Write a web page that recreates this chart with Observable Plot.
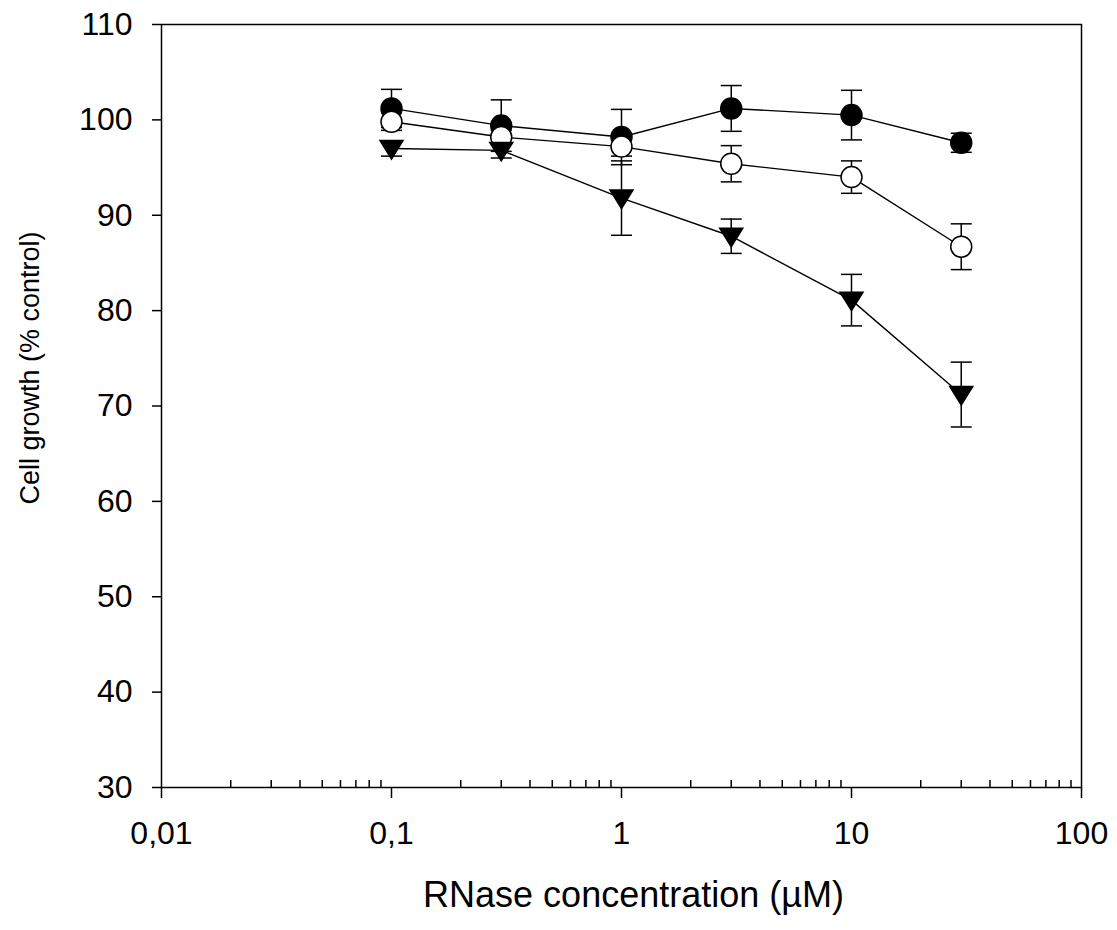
<!DOCTYPE html>
<html>
<head>
<meta charset="utf-8">
<script src="https://cdn.jsdelivr.net/npm/d3@7"></script>
<script src="https://cdn.jsdelivr.net/npm/@observablehq/plot@0.6"></script>
<style>
  body { margin: 0; background: #fff; }
</style>
</head>
<body>
<div id="chart"></div>
<script>
// ---- data ----
const concentrations = [0.1, 0.3, 1, 3, 10, 30];
const filledMean = [101.2, 99.4, 98.2, 101.2, 100.5, 97.6];
const filledErr  = [2.0, 2.7, 2.9, 2.4, 2.6, 1.0];
const openMean   = [99.8, 98.2, 97.2, 95.4, 94.0, 86.7];
const openErr    = [0.9, 0.7, 1.0, 1.9, 1.7, 2.4];
const triMean    = [97.0, 96.8, 91.8, 87.8, 81.1, 71.2];
const triErr     = [0.8, 0.8, 3.9, 1.8, 2.7, 3.4];

const xMajorTicks = [0.01, 0.1, 1, 10, 100];
const xTickLabels = ["0,01", "0,1", "1", "10", "100"];
const xMinorTicks = [0.02, 0.03, 0.04, 0.05, 0.06, 0.07, 0.08, 0.09,
                     0.2, 0.3, 0.4, 0.5, 0.6, 0.7, 0.8, 0.9,
                     2, 3, 4, 5, 6, 7, 8, 9,
                     20, 30, 40, 50, 60, 70, 80, 90];
const yTicks = [30, 40, 50, 60, 70, 80, 90, 100, 110];
const xTitle = "RNase concentration (\u00B5M)";
const yTitle = "Cell growth (% control)";

// ---- build tables ----
function rows(means, errs) {
  return concentrations.map((x, i) => ({x, y: means[i], lo: means[i] - errs[i], hi: means[i] + errs[i]}));
}
const filledRows = rows(filledMean, filledErr);
const openRows = rows(openMean, openErr);
const triRows = rows(triMean, triErr);

// ---- custom symbols ----
const capSymbol = {draw(ctx) { ctx.moveTo(-10.5, 0); ctx.lineTo(10.5, 0); }};
const triDown = {draw(ctx) { ctx.moveTo(-11.5, -8); ctx.lineTo(11.5, -8); ctx.lineTo(0, 10.5); ctx.closePath(); }};

function seriesMarks(data, symbol, fill) {
  return [
    Plot.ruleX(data, {x: "x", y1: "lo", y2: "hi", stroke: "black", strokeWidth: 1.5}),
    Plot.dot(data, {x: "x", y: "lo", symbol: capSymbol, fill: "none", stroke: "black", strokeWidth: 1.5}),
    Plot.dot(data, {x: "x", y: "hi", symbol: capSymbol, fill: "none", stroke: "black", strokeWidth: 1.5}),
    Plot.line(data, {x: "x", y: "y", stroke: "black", strokeWidth: 1.4}),
    Plot.dot(data, {x: "x", y: "y", symbol, r: 10.5, fill, stroke: "black", strokeWidth: 1.5})
  ];
}

const chart = Plot.plot({
  width: 1117,
  height: 930,
  marginLeft: 161,
  marginRight: 36,
  marginTop: 24,
  marginBottom: 143,
  style: {fontFamily: "'Liberation Sans', Arial, sans-serif", fontSize: "32px", color: "black", background: "white"},
  x: {type: "log", domain: [0.01, 100], axis: null},
  y: {domain: [30, 110], axis: null},
  marks: [
    Plot.frame({stroke: "black", strokeWidth: 1.5}),
    Plot.axisY(yTicks, {anchor: "left", tickSize: 9, tickPadding: 20, fontSize: 32, strokeWidth: 1.5, label: null}),
    Plot.axisX(xMajorTicks, {anchor: "bottom", tickSize: 11, tickPadding: 23, fontSize: 32, strokeWidth: 1.5,
      tickFormat: d => xTickLabels[xMajorTicks.indexOf(d)], label: null}),
    Plot.axisX(xMinorTicks, {anchor: "bottom", tickSize: -7, strokeWidth: 1.5, tickFormat: () => "", label: null}),
    ...seriesMarks(filledRows, "circle", "black"),
    ...seriesMarks(openRows, "circle", "white"),
    ...seriesMarks(triRows, triDown, "black"),
    Plot.text([yTitle], {text: d => d, frameAnchor: "left", textAnchor: "middle", lineAnchor: "middle",
      rotate: -90, dx: -131, dy: -38, fontSize: 27}),
    Plot.text([xTitle], {text: d => d, frameAnchor: "bottom", textAnchor: "middle", lineAnchor: "middle",
      dx: 12, dy: 108, fontSize: 36})
  ]
});
document.getElementById("chart").appendChild(chart);
</script>
</body>
</html>
